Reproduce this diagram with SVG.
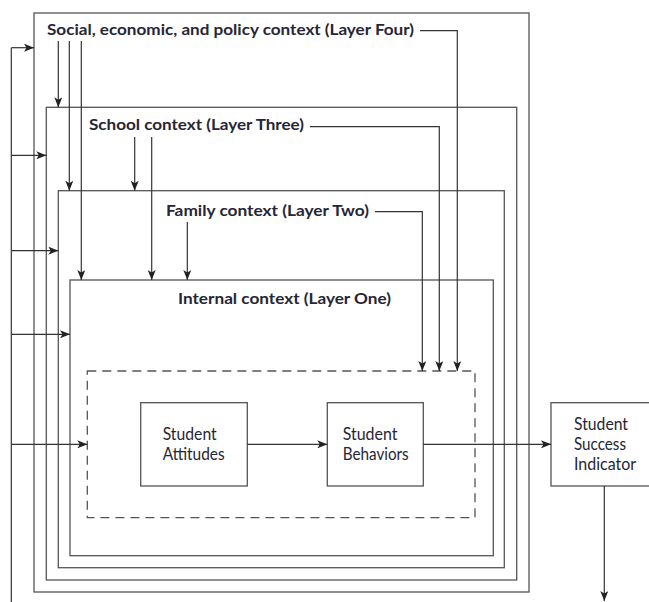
<svg xmlns="http://www.w3.org/2000/svg" width="649" height="602" viewBox="0 0 649 602">
<style>
.box{fill:none;stroke:#555;stroke-width:1.3}
.dash{fill:none;stroke:#555;stroke-width:1.3;stroke-dasharray:9,6}
.ln{fill:none;stroke:#333;stroke-width:1.2}
.arr{fill:none;stroke:#333;stroke-width:1.2;marker-end:url(#ah)}
.t{font-family:Lato,"Open Sans","Liberation Sans",sans-serif;font-weight:bold;font-size:15.5px;fill:#262636}
.n{font-family:Lato,"Open Sans","Liberation Sans",sans-serif;font-size:16.5px;fill:#262636}
</style>
<defs>
<marker id="ah" markerUnits="userSpaceOnUse" markerWidth="10" markerHeight="8" refX="10" refY="4" orient="auto">
<path d="M0,0 L10,4 L0,8 L2.5,4 z" fill="#222"/>
</marker>
</defs>
<rect width="649" height="602" fill="#fff"/>
<g id="layer4">
<rect class="box" x="34" y="13" width="495" height="579"/>
<text class="t" x="47" y="34.5" textLength="367" lengthAdjust="spacingAndGlyphs">Social, economic, and policy context (Layer Four)</text>
</g>
<g id="layer3">
<rect class="box" x="46.3" y="107.3" width="470.4" height="472.7"/>
<text class="t" x="89" y="130" textLength="215" lengthAdjust="spacingAndGlyphs">School context (Layer Three)</text>
</g>
<g id="layer2">
<rect class="box" x="58.3" y="190.7" width="446" height="377"/>
<text class="t" x="166" y="216" textLength="203" lengthAdjust="spacingAndGlyphs">Family context (Layer Two)</text>
</g>
<g id="layer1">
<rect class="box" x="70" y="280" width="423.3" height="275.7"/>
<text class="t" x="178" y="304" textLength="213" lengthAdjust="spacingAndGlyphs">Internal context (Layer One)</text>
</g>
<g id="inner">
<rect class="dash" x="87.3" y="371" width="387.7" height="146.7"/>
</g>
<g id="attitudes">
<rect class="box" x="140.7" y="402.7" width="106.6" height="83.3"/>
<text class="n" x="162.7" y="440" textLength="54" lengthAdjust="spacingAndGlyphs">Student</text>
<text class="n" x="162.7" y="460" textLength="62" lengthAdjust="spacingAndGlyphs">Attitudes</text>
</g>
<g id="behaviors">
<rect class="box" x="327.3" y="402.7" width="96" height="83.3"/>
<text class="n" x="342.7" y="440" textLength="54.7" lengthAdjust="spacingAndGlyphs">Student</text>
<text class="n" x="342.7" y="460" textLength="66" lengthAdjust="spacingAndGlyphs">Behaviors</text>
</g>
<g id="success">
<rect class="box" x="551" y="402.7" width="110" height="83.3"/>
<text class="n" x="574" y="430" textLength="54" lengthAdjust="spacingAndGlyphs">Student</text>
<text class="n" x="574" y="450" textLength="52" lengthAdjust="spacingAndGlyphs">Success</text>
<text class="n" x="574" y="470" textLength="62" lengthAdjust="spacingAndGlyphs">Indicator</text>
</g>
<g id="connectors">
<polyline class="arr" points="420,30.7 457.3,30.7 457.3,371"/>
<polyline class="arr" points="310,126.7 439.3,126.7 439.3,371"/>
<polyline class="arr" points="375,211.7 422.3,211.7 422.3,371"/>
<line class="arr" x1="58.3" y1="41" x2="58.3" y2="107.3"/>
<line class="arr" x1="69.3" y1="41" x2="69.3" y2="190.7"/>
<line class="arr" x1="81.3" y1="41" x2="81.3" y2="280"/>
<line class="arr" x1="134.7" y1="137" x2="134.7" y2="190.7"/>
<line class="arr" x1="151.7" y1="137" x2="151.7" y2="280"/>
<line class="arr" x1="187.3" y1="222" x2="187.3" y2="280"/>
<line class="ln" x1="11.3" y1="602" x2="11.3" y2="47.7"/>
<line class="arr" x1="11.3" y1="47.7" x2="34" y2="47.7"/>
<line class="arr" x1="11.3" y1="155.3" x2="46.3" y2="155.3"/>
<line class="arr" x1="11.3" y1="250.7" x2="58.3" y2="250.7"/>
<line class="arr" x1="11.3" y1="334.3" x2="70" y2="334.3"/>
<line class="arr" x1="11.3" y1="444.3" x2="87.3" y2="444.3"/>
<line class="arr" x1="247.3" y1="444.3" x2="327.3" y2="444.3"/>
<line class="arr" x1="423.3" y1="444.3" x2="551" y2="444.3"/>
<line class="arr" x1="604.3" y1="486" x2="604.3" y2="601"/>
</g>
</svg>
